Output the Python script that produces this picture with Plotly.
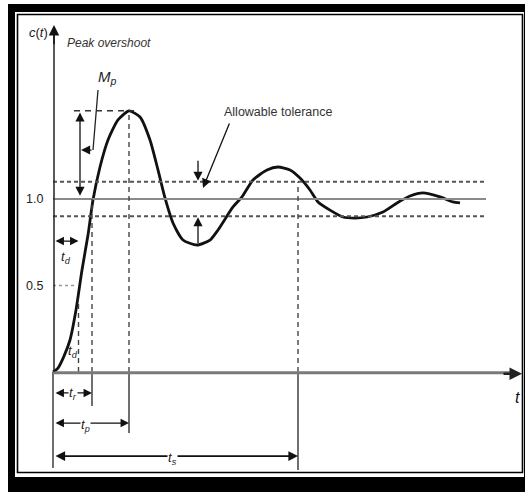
import plotly.graph_objects as go

# ---- data ----
time_pts = [0.0, 0.10, 0.22, 0.34, 0.46, 0.58, 0.70, 0.80, 0.94, 1.10, 1.30, 1.52, 1.74, 1.94,
            2.10, 2.24, 2.40, 2.60, 2.88, 3.14, 3.30, 3.60, 3.78, 4.00, 4.28, 4.50, 4.74, 4.94,
            5.14, 5.30, 5.54, 5.80, 6.04, 6.28, 6.60, 6.88, 7.14, 7.40, 7.74, 8.00, 8.14]
response_pts = [0.0, 0.023, 0.092, 0.185, 0.358, 0.590, 0.792, 0.994, 1.185, 1.341, 1.457, 1.509,
                1.474, 1.341, 1.168, 1.006, 0.861, 0.763, 0.734, 0.763, 0.821, 0.954, 1.012, 1.110,
                1.168, 1.185, 1.168, 1.121, 1.052, 0.983, 0.936, 0.896, 0.890, 0.896, 0.925, 0.977,
                1.017, 1.035, 1.012, 0.983, 0.977]

final_value = 1.0
tolerance = 0.1
peak_value = 1.51
half_value = 0.5
t_d = 0.51
t_r = 0.78
t_p = 1.52
t_s = 4.90
t_end_ref = 8.66      # end of reference / tolerance lines
t_axis_end = 9.38     # end of time axis
c_axis_top = 2.006

tick_vals = [0.5, 1.0]
tick_labels = ["0.5", "1.0"]

W, H = 525, 492
X0, Y0 = -1.06, 2.1503
X1, Y1 = 9.44, -0.6936


def px(p):
    return p / W


def py(p):
    return 1 - p / H


fig = go.Figure()

# step response curve
fig.add_trace(go.Scatter(x=time_pts, y=response_pts, mode="lines",
                         line=dict(color="#111", width=2.8, shape="spline", smoothing=0.6),
                         hoverinfo="skip", showlegend=False))

shapes = []
# frame
shapes.append(dict(type="rect", xref="paper", yref="paper", x0=px(8), x1=px(530), y0=py(4), y1=py(500),
                   fillcolor="black", line=dict(width=0), layer="below"))
shapes.append(dict(type="rect", xref="paper", yref="paper", x0=px(15), x1=px(524), y0=py(12), y1=py(477),
                   fillcolor="white", line=dict(width=0), layer="below"))
shapes.append(dict(type="rect", xref="paper", yref="paper", x0=px(17.5), x1=px(522.5), y0=py(14.5), y1=py(472.5),
                   fillcolor="rgba(0,0,0,0)", line=dict(color="black", width=1.6), layer="below"))

# reference and tolerance lines
shapes.append(dict(type="line", x0=0, x1=t_end_ref, y0=final_value, y1=final_value,
                   line=dict(color="#8a8a8a", width=2)))
for lv in (final_value + tolerance, final_value - tolerance):
    shapes.append(dict(type="line", x0=0, x1=t_end_ref, y0=lv, y1=lv,
                       line=dict(color="#555", width=2, dash="4px,3px")))
# 0.5 short dashed
shapes.append(dict(type="line", x0=0, x1=t_d - 0.05, y0=half_value, y1=half_value,
                   line=dict(color="#999", width=1.5, dash="3px,3px")))
# peak dashed horizontal
shapes.append(dict(type="line", x0=0.42, x1=1.62, y0=peak_value, y1=peak_value,
                   line=dict(color="#333", width=1.4, dash="6px,5px")))

# vertical dashed lines
for tx, top in ((t_d, 0.42), (t_r, final_value), (t_p, peak_value), (t_s, final_value + tolerance)):
    shapes.append(dict(type="line", x0=tx, x1=tx, y0=0, y1=top,
                       line=dict(color="#444", width=1.4, dash="5px,4px")))
# solid extension lines below time axis
for tx, bot in ((0, -0.555), (t_r, -0.197), (t_p, -0.353), (t_s, -0.566)):
    shapes.append(dict(type="line", x0=tx, x1=tx, y0=0, y1=bot,
                       line=dict(color="#222", width=1.3)))

# axes
shapes.append(dict(type="line", x0=0, x1=t_axis_end - 0.15, y0=-0.005, y1=-0.005,
                   line=dict(color="#7a7a7a", width=3)))
shapes.append(dict(type="line", x0=0.02, x1=0.02, y0=0, y1=c_axis_top - 0.04,
                   line=dict(color="#222", width=1.5)))
fig.update_layout(shapes=shapes)

ann = []
def arrow(x, y, ax, ay, both=False, width=1.5, size=1.0, color="#111", head=2):
    d = dict(x=x, y=y, ax=ax, ay=ay, xref="x", yref="y", axref="x", ayref="y", text="",
             showarrow=True, arrowhead=head, arrowsize=size, arrowwidth=width, arrowcolor=color,
             standoff=0, startstandoff=0)
    if both:
        d["arrowside"] = "end+start"
        d["startarrowhead"] = head
        d["startarrowsize"] = size
    ann.append(d)

# axis arrow heads
arrow(0.02, c_axis_top, 0.02, c_axis_top - 0.12, width=1.5, size=1.4)
arrow(t_axis_end, -0.01, t_axis_end - 0.4, -0.01, width=2.5, size=1.0, color="#222")

# M_p double arrow
arrow(0.54, peak_value - 0.01, 0.54, final_value + 0.01, both=True, width=1.3, size=1.4)
# M_p leader
fig.add_trace(go.Scatter(x=[0.90, 0.80], y=[1.63, 1.283], mode="lines",
                         line=dict(color="#222", width=1.3), hoverinfo="skip", showlegend=False))
arrow(0.56, 1.283, 0.80, 1.283, width=1.3, size=1.4)

# t_d double arrow
arrow(t_d, 0.757, 0.02, 0.757, both=True, width=1.3, size=1.3)

# tolerance arrows
arrow(2.90, final_value + tolerance + 0.005, 2.90, 1.23, width=1.3, size=1.4)
arrow(2.90, final_value - tolerance - 0.005, 2.90, 0.735, width=1.3, size=1.4)
# allowable tolerance leader
arrow(3.0, 1.064, 3.54, 1.445, width=1.3, size=1.4)

# time markers
arrow(t_r, -0.121, 0.02, -0.121, both=True, width=1.3, size=1.3)
arrow(t_p, -0.295, 0.02, -0.295, both=True, width=1.3, size=1.3)
arrow(t_s, -0.486, 0.02, -0.486, both=True, width=1.6, size=1.2)

FONT = "Liberation Sans, Arial, sans-serif"

def label(x, y, text, size=13, xanchor="center", bg=None, color="#222"):
    d = dict(x=x, y=y, xref="x", yref="y", text=text, showarrow=False, xanchor=xanchor,
             yanchor="middle", font=dict(family=FONT, size=size, color=color))
    if bg:
        d["bgcolor"] = bg
        d["borderpad"] = 0
    ann.append(d)

label(-0.30, 1.96, "<i>c</i>(<i>t</i>)", size=13)
label(0.24, 1.902, "<i>Peak overshoot</i>", size=12, xanchor="left", color="#333")
label(1.08, 1.70, "<i>M<sub>p</sub></i>", size=15)
label(3.38, 1.503, "Allowable tolerance", size=12.5, xanchor="left", color="#333")
for v, t in zip(tick_vals, tick_labels):
    label(-0.38, v, t, size=12.5)
label(0.26, 0.66, "<i>t<sub>d</sub></i>", size=13)
label(0.40, 0.12, "<i>t<sub>d</sub></i>", size=13)
label(0.40, -0.125, "<i>t<sub>r</sub></i>", size=13, bg="white")
label(0.64, -0.31, "<i>t<sub>p</sub></i>", size=13, bg="white")
label(2.38, -0.50, "<i>t<sub>s</sub></i>", size=13, bg="white")
label(9.28, -0.15, "<i>t</i>", size=16, color="#111")

fig.update_layout(
    annotations=ann,
    width=W, height=H, autosize=False,
    margin=dict(l=0, r=0, t=0, b=0),
    paper_bgcolor="white", plot_bgcolor="white",
    xaxis=dict(range=[X0, X1], visible=False, fixedrange=True),
    yaxis=dict(range=[Y1, Y0], visible=False, fixedrange=True),
    showlegend=False,
)

fig.write_html("out.html", config={"staticPlot": True},
               post_script="document.body.style.margin='0';document.body.style.overflow='hidden';")
